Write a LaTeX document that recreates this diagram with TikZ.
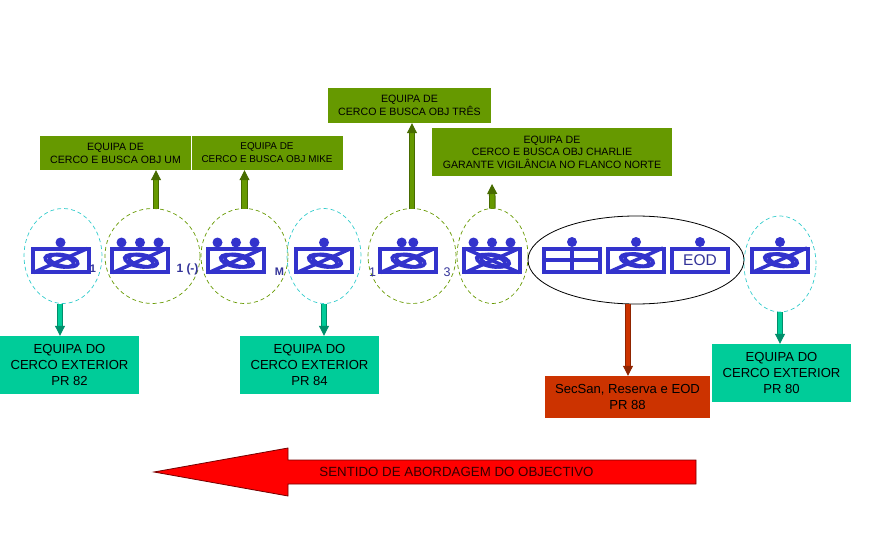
\documentclass[tikz,border=0pt]{standalone}
\usepackage{fontspec}
\setmainfont{Liberation Sans}
\usetikzlibrary{arrows.meta, shapes.geometric}
\definecolor{symblue}{HTML}{3333CC}
\definecolor{lblblue}{HTML}{333399}
\definecolor{boxgreen}{HTML}{669900}
\definecolor{boxteal}{HTML}{00CC99}
\definecolor{boxrust}{HTML}{CC3300}
\definecolor{ringteal}{HTML}{33CCCC}
\tikzset{
    unitbox/.style={draw=symblue, line width=4pt, minimum width=56pt, minimum height=23pt, inner sep=0pt, outer sep=2pt, text=lblblue, font=\fontsize{15.5}{15.5}\selectfont},
    ring/.style={ellipse, dashed, dash pattern=on 4pt off 3pt, line width=0.7pt, inner sep=0pt, outer sep=0pt, minimum width=#1},
    team/.style={fill=boxgreen, align=center, inner sep=0pt, font=\fontsize{10.6}{12.5}\selectfont},
    outer/.style={fill=boxteal, align=center, inner sep=0pt, minimum width=139pt, minimum height=58pt, font=\fontsize{13.1}{16}\selectfont},
    lbl/.style={text=lblblue, font=\bfseries\fontsize{11}{11}\selectfont, inner sep=0pt},
    uparrow/.style={line width=1pt, draw=#1!70!black, double=#1, double distance=4.5pt, -{Triangle[length=10pt, width=10pt, fill=#1!70!black]}}
}
% dots on top of a unit box
\newcommand{\unitdots}[2]{
    \foreach \dx in {#2} \fill[symblue] ([xshift=\dx pt, yshift=18pt]#1.center) circle (5pt);
}
% slash and loop inside a unit box
\newcommand{\unitloop}[1]{
    \begin{scope}[shift={(#1.center)}]
        \draw[symblue, line width=3.5pt] (-27,12) -- (27,-12);
        \draw[symblue, line width=3.6pt, rotate=-12] (-1,0.5) ellipse (14.5pt and 5.6pt);
        \draw[symblue, line width=3.6pt, rotate=-12] (3,-0.5) ellipse (14.5pt and 5.6pt);
    \end{scope}
}
\begin{document}
\begin{tikzpicture}[x=1pt, y=-1pt]
    \useasboundingbox (0,0) rectangle (880,540);

    % teams at the top
    \node[team, minimum width=151pt, minimum height=34pt, font=\fontsize{10.6}{13}\selectfont] (b1) at (115.5,153) {EQUIPA DE\\CERCO E BUSCA OBJ UM};
    \node[team, minimum width=151pt, minimum height=34pt, font=\fontsize{9.9}{13}\selectfont] (b2) at (267,153) {EQUIPA DE\\CERCO E BUSCA OBJ MIKE};
    \node[team, minimum width=163pt, minimum height=35pt] (b3) at (409.5,105.5) {EQUIPA DE\\CERCO E BUSCA OBJ TRÊS};
    \node[team, minimum width=240pt, minimum height=48pt] (b4) at (552,152) {EQUIPA DE\\CERCO E BUSCA OBJ CHARLIE\\GARANTE VIGILÂNCIA NO FLANCO NORTE};

    % rings
    \node[ring=78pt, minimum height=95pt, draw=ringteal] (r1) at (63,256) {};
    \node[ring=95pt, minimum height=95pt, draw=boxgreen] (r2) at (152.5,256) {};
    \node[ring=87pt, minimum height=95pt, draw=boxgreen] (r3) at (244.5,256) {};
    \node[ring=74pt, minimum height=95pt, draw=ringteal] (r4) at (324,256) {};
    \node[ring=88pt, minimum height=95pt, draw=boxgreen] (r5) at (412,256) {};
    \node[ring=71pt, minimum height=95pt, draw=boxgreen] (r6) at (492.5,256) {};
    \node[ellipse, draw=black, line width=0.8pt, minimum width=216pt, minimum height=88pt, inner sep=0pt, outer sep=0pt] (r7) at (636,260) {};
    \node[ring=72pt, minimum height=96pt, draw=ringteal] (r8) at (780,264) {};

    % unit boxes
    \node[unitbox] (u1) at (60.5,260.5) {};
    \node[unitbox] (u2) at (140,260.5) {};
    \node[unitbox] (u3) at (236,260.5) {};
    \node[unitbox] (u4) at (324,260.5) {};
    \node[unitbox] (u5) at (407.5,260.5) {};
    \node[unitbox] (u6) at (492,260.5) {};
    \node[unitbox] (u7) at (572,260) {};
    \node[unitbox] (u8) at (636,260) {};
    \node[unitbox] (u9) at (700,260) {EOD};
    \node[unitbox] (u10) at (780,260) {};

    \unitloop{u1} \unitdots{u1}{0}
    \unitloop{u2} \unitdots{u2}{-18.5,0,18.5}
    \unitloop{u3} \unitdots{u3}{-18.5,0,18.5}
    \unitloop{u4} \unitdots{u4}{0}
    \unitloop{u5} \unitdots{u5}{-5.8,5.8}
    \unitloop{u6} \unitdots{u6}{-18.5,0,18.5}
    \draw[symblue, line width=3.5pt] ([xshift=-27pt, yshift=12pt]u6.center) -- ([xshift=27pt, yshift=-12pt]u6.center);
    \draw[symblue, line width=4pt] (u7.north) -- (u7.south);
    \draw[symblue, line width=4pt] (u7.west) -- (u7.east);
    \unitdots{u7}{0}
    \unitloop{u8} \unitdots{u8}{0}
    \unitdots{u9}{0}
    \unitloop{u10} \unitdots{u10}{0}

    % labels beside the units
    \node[lbl] (l1) at (93,269) {1};
    \node[lbl, font=\bfseries\fontsize{12}{12}\selectfont] (l2) at (187.5,269) {1 (-)};
    \node[lbl] (l3) at (279.5,272) {M};
    \node[lbl, font=\fontsize{12.5}{12.5}\selectfont] (l4) at (372.5,272) {1};
    \node[lbl, font=\fontsize{12.5}{12.5}\selectfont] (l5) at (447,272) {3};

    % teams at the bottom
    \node[outer] (c1) at (69.5,365) {EQUIPA DO\\CERCO EXTERIOR\\PR 82};
    \node[outer] (c2) at (309.5,365) {EQUIPA DO\\CERCO EXTERIOR\\PR 84};
    \node[outer] (c3) at (781.5,373) {EQUIPA DO\\CERCO EXTERIOR\\PR 80};
    \node[outer, fill=boxrust, minimum width=165pt, minimum height=42pt] (c4) at (627.5,397) {SecSan, Reserva e EOD\\PR 88};

    % arrows
    \coordinate (t6) at (492,184);
    \draw[uparrow=boxgreen] ([xshift=3.5pt]r2.north) -- ([xshift=3.5pt]r2.north |- b1.south);
    \draw[uparrow=boxgreen] (r3.north) -- (r3.north |- b2.south);
    \draw[uparrow=boxgreen] (r5.north) -- (r5.north |- b3.south);
    \draw[uparrow=boxgreen] (r6.north) -- (t6);
    \draw[uparrow=boxteal] ([xshift=-3pt]r1.south) -- ([xshift=-3pt]r1.south |- c1.north);
    \draw[uparrow=boxteal] (r4.south) -- (r4.south |- c2.north);
    \draw[uparrow=boxteal] (r8.south) -- (r8.south |- c3.north);
    \draw[uparrow=boxrust] ([xshift=-8pt]r7.south) -- ([xshift=-8pt]r7.south |- c4.north);

    % direction of approach
    \draw[fill=red, draw=red!45!black, line width=0.8pt] (154,472) -- (288,448) -- (288,460) -- (696,460) -- (696,484) -- (288,484) -- (288,496) -- cycle;
    \node[font=\fontsize{13.3}{13.3}\selectfont, text=black!80!red, inner sep=0pt] (dir) at (456.5,472) {SENTIDO DE ABORDAGEM DO OBJECTIVO};
\end{tikzpicture}
\end{document}
